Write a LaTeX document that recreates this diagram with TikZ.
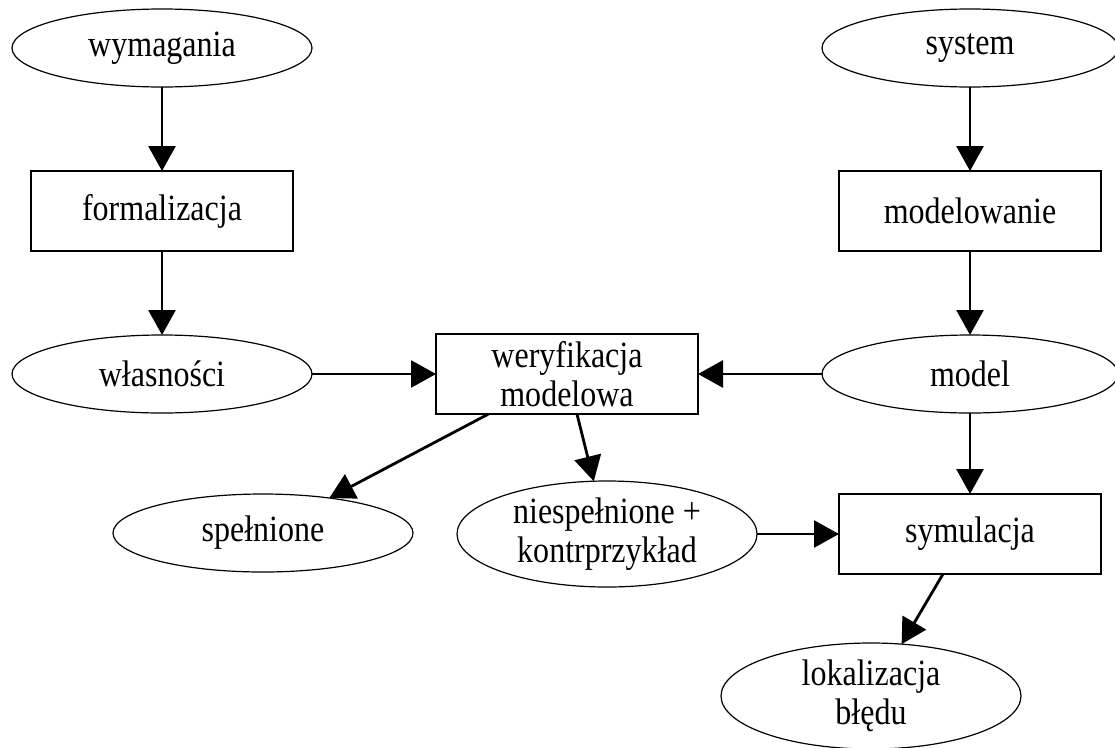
\documentclass[tikz,border=0pt]{standalone}
\usepackage{fontspec}
\setmainfont{Liberation Serif}[FakeStretch=0.865]
\usetikzlibrary{shapes.geometric,arrows.meta}
\begin{document}
\begin{tikzpicture}[x=1pt,y=-1pt,
  base/.style={draw,line width=1.2pt,inner sep=0pt,outer sep=0pt,font=\fontsize{37}{38.5}\selectfont,align=center},
  oval/.style={base,ellipse,minimum width=300pt,minimum height=78pt},
  oval2/.style={base,ellipse,minimum width=300pt,minimum height=106pt},
  boxnode/.style={base,rectangle,minimum width=262pt,minimum height=80pt},
  arr/.style={line width=2.8pt,-{Triangle[length=25pt,width=27pt]}}
]
\useasboundingbox (0,0) rectangle (1115,747);
\node[oval] (wym) at (162,48) {wymagania};
\node[oval,minimum width=296pt] (sys) at (970,48) {system};
\node[boxnode] (form) at (162,211) {formalizacja};
\node[boxnode] (modl) at (970,211) {modelowanie};
\node[oval] (wlas) at (162,374) {własności};
\node[boxnode] (wer) at (567,374) {weryfikacja\\modelowa};
\node[oval,minimum width=296pt] (model) at (970,374) {model};
\node[oval] (spel) at (263,533) {spełnione};
\node[oval2] (nie) at (607,534) {niespełnione +\\kontrprzykład};
\node[boxnode] (sym) at (970,534) {symulacja};
\node[oval2] (lok) at (871,696) {lokalizacja\\błędu};

\draw[arr] (wym) -- (form);
\draw[arr] (form) -- (wlas);
\draw[arr] (sys) -- (modl);
\draw[arr] (modl) -- (model);
\draw[arr] (wlas) -- (wer);
\draw[arr] (model) -- (wer);
\draw[arr] (wer.207) -- (spel);
\draw[arr] (wer.284) -- (nie);
\draw[arr] (model) -- (sym);
\draw[arr] (nie) -- (sym);
\draw[arr] (sym.236.6) -- (lok);
\end{tikzpicture}
\end{document}
